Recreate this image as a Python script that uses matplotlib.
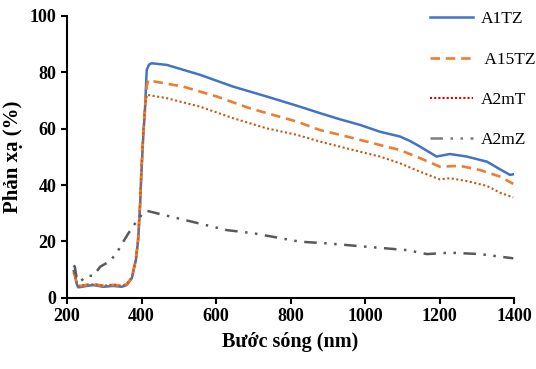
import matplotlib
matplotlib.use("Agg")
import matplotlib.pyplot as plt
from matplotlib.lines import Line2D

# wavelength (nm) / reflectance (%)
x_a1tz = [218, 222, 226, 230, 240, 253, 271, 297, 324, 347, 360, 374, 385, 391, 396, 400, 405, 409, 414, 420, 427,
          468, 557, 646, 736, 825, 879, 933, 987, 1040, 1094, 1121, 1148, 1192, 1228, 1273, 1327, 1362, 1389, 1398]
y_a1tz = [9.5, 7.5, 5.0, 3.7, 3.9, 4.2, 4.5, 3.9, 4.2, 3.9, 4.5, 6.9, 13.4, 20.5, 32.3, 45, 58, 66, 80.8, 82.7, 83.2,
          82.6, 79.1, 74.9, 71.4, 67.8, 65.5, 63.3, 61.3, 58.9, 57.2, 55.6, 53.6, 50.1, 51.0, 50.1, 48.3, 45.6, 43.6, 43.8]

x_a15tz = [218, 222, 226, 230, 240, 253, 271, 297, 324, 347, 360, 374, 385, 391, 396, 400, 405, 409, 414, 418, 423,
           512, 602, 691, 817, 879, 933, 987, 1040, 1094, 1148, 1201, 1255, 1309, 1362, 1398]
y_a15tz = [9.0, 7.5, 5.5, 4.2, 4.3, 4.6, 4.8, 4.3, 4.6, 4.3, 4.8, 7.2, 13.8, 21, 33, 46, 59, 67, 75, 77.2, 77.0,
           74.9, 71.4, 67.2, 62.5, 59.5, 57.8, 56.0, 54.2, 52.4, 49.5, 46.5, 46.8, 45.3, 43.0, 40.4]

x_a2mt = [218, 222, 226, 230, 240, 253, 271, 297, 324, 347, 360, 374, 385, 391, 396, 400, 405, 409, 414, 468,
          557, 646, 736, 817, 879, 933, 987, 1040, 1094, 1148, 1201, 1228, 1273, 1327, 1362, 1398]
y_a2mt = [9.0, 7.5, 5.5, 4.2, 4.3, 4.6, 4.8, 4.3, 4.6, 4.3, 4.8, 7.2, 13.8, 21, 33, 46, 59, 67, 72.0, 70.8,
          67.8, 63.7, 60.1, 57.8, 55.4, 53.6, 51.8, 50.1, 47.7, 44.7, 42.0, 42.4, 41.4, 39.7, 37.3, 35.6]

x_a2mz = [218, 221, 226, 235, 253, 271, 289, 315, 333, 347, 365, 383, 395, 405, 416, 450, 557, 629, 700,
          825, 898, 1005, 1113, 1166, 1228, 1309, 1362, 1398]
y_a2mz = [11.5, 11.0, 6.9, 5.7, 7.8, 7.8, 11.0, 13.0, 15.8, 19.0, 22.9, 26.4, 28.5, 30.3, 30.8, 29.7, 26.3, 24.0, 22.9,
          19.9, 19.3, 18.1, 16.9, 15.5, 16.0, 15.5, 14.6, 14.0]

labels = ["A1TZ", " A15TZ", "A2mT", "A2mZ"]

plt.rcParams["font.family"] = ["Liberation Serif", "DejaVu Serif"]

fig = plt.figure(figsize=(5.36, 3.69), dpi=100)
ax = fig.add_axes([0.125, 0.193, 0.834, 0.764])

ax.plot(x_a1tz, y_a1tz, color="#4472C4", lw=1.8)
ax.plot(x_a15tz, y_a15tz, color="#ED7D31", lw=1.9, linestyle=(0, (3.6, 2.2)))
ax.plot(x_a2mt, y_a2mt, color="#C55A11", lw=1.5, linestyle=(0, (1, 1.2)))
ax.plot(x_a2mz, y_a2mz, color="#595959", lw=1.8, linestyle=(0, (5, 3, 1, 3, 1, 3)))

ax.set_xlim(200, 1400)
ax.set_ylim(0, 100)
ax.set_xticks(range(200, 1401, 200))
ax.set_yticks(range(0, 101, 20))
for s in ["top", "right"]:
    ax.spines[s].set_visible(False)
for s in ["left", "bottom"]:
    ax.spines[s].set_linewidth(1.5)
ax.tick_params(direction="out", length=4, width=1.5, labelsize=13)
for t in ax.get_xticklabels() + ax.get_yticklabels():
    t.set_fontweight("bold")

ax.set_xlabel("Bước sóng (nm)", fontsize=14.5, fontweight="bold", labelpad=5)
ax.set_ylabel("Phản xạ (%)", fontsize=15, fontweight="bold", labelpad=5)

handles = [
    Line2D([], [], color="#4472C4", lw=1.8),
    Line2D([], [], color="#ED7D31", lw=1.9, linestyle=(0, (3.6, 2.2))),
    Line2D([], [], color="#E00000", lw=1.5, linestyle=(0, (1, 1))),
    Line2D([], [], color="#7F7F7F", lw=1.8, linestyle=(0, (5, 3, 1, 3, 1, 3))),
]
fig.legend(handles, labels, loc="upper left", bbox_to_anchor=(0.773, 1.012), frameon=False,
           fontsize=12.5, handlelength=2.5, labelspacing=1.39, handletextpad=0.45)

fig.savefig("out.png", dpi=100)
